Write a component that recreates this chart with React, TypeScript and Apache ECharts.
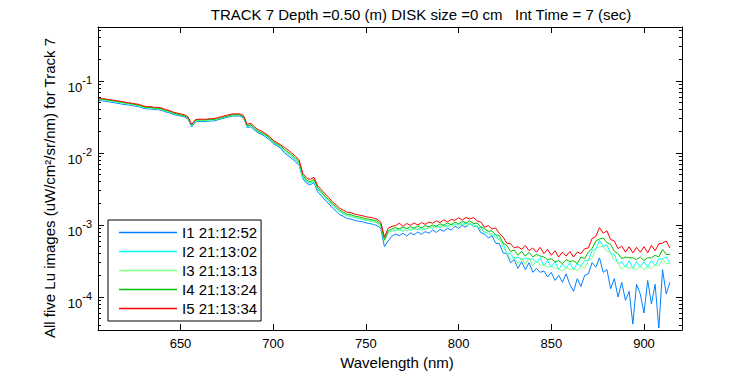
import React, { useEffect, useRef } from "react";
import * as echarts from "echarts";

const FONT = "'Liberation Sans', Arial, Helvetica, sans-serif";

const TITLE = "TRACK 7 Depth =0.50 (m) DISK size =0 cm   Int Time = 7 (sec)";
const Y_LABEL = "All five Lu images (uW/cm\u00B2/sr/nm) for Track 7";
const X_LABEL = "Wavelength (nm)";

const X_MIN = 605.5;
const X_MAX = 920.5;
const Y_MIN_LOG = -4.458;
const Y_MAX_LOG = -0.25;

const X_TICKS = [650, 700, 750, 800, 850, 900];
const Y_DECADES = [-4, -3, -2, -1];

const SERIES_NAMES = ["I1 21:12:52", "I2 21:13:02", "I3 21:13:13", "I4 21:13:24", "I5 21:13:34"];
const SERIES_COLORS = ["#0080FF", "#00FFFF", "#80FF80", "#00C000", "#FF0000"];

const WAVELENGTHS = [
  606, 608, 610, 612, 614, 616, 618, 620, 622, 624,
  626, 628, 630, 632, 634, 636, 638, 640, 642, 644,
  646, 648, 650, 652, 654, 656, 658, 660, 662, 664,
  666, 668, 670, 672, 674, 676, 678, 680, 682, 684,
  686, 688, 690, 692, 694, 696, 698, 700, 702, 704,
  706, 708, 710, 712, 714, 716, 718, 720, 722, 724,
  726, 728, 730, 732, 734, 736, 738, 740, 742, 744,
  746, 748, 750, 752, 754, 756, 758, 760, 762, 764,
  766, 768, 770, 772, 774, 776, 778, 780, 782, 784,
  786, 788, 790, 792, 794, 796, 798, 800, 802, 804,
  806, 808, 810, 812, 814, 816, 818, 820, 822, 824,
  826, 828, 830, 832, 834, 836, 838, 840, 842, 844,
  846, 848, 850, 852, 854, 856, 858, 860, 862, 864,
  866, 868, 870, 872, 874, 876, 878, 880, 882, 884,
  886, 888, 890, 892, 894, 896, 898, 900, 902, 904,
  906, 908, 910, 912, 914,
];

const I1 = [
  0.054, 0.053, 0.052, 0.051, 0.050, 0.049, 0.048, 0.047, 0.0465, 0.0455,
  0.0446, 0.0437, 0.0418, 0.0409, 0.0409, 0.040, 0.040, 0.039, 0.0372, 0.0363,
  0.0344, 0.0335, 0.0326, 0.0316, 0.0298, 0.023, 0.027, 0.0274, 0.0273, 0.0274,
  0.0279, 0.0279, 0.0288, 0.0298, 0.0307, 0.0316, 0.0326, 0.0326, 0.0326, 0.0307,
  0.0225, 0.0232, 0.0207, 0.0189, 0.018, 0.0167, 0.0153, 0.0135, 0.0126, 0.0117,
  0.0101, 0.0092, 0.0084, 0.0076, 0.0067, 0.0044, 0.0038, 0.0036, 0.0039, 0.0029,
  0.00254, 0.00221, 0.00197, 0.00172, 0.00156, 0.00139, 0.00131, 0.00123, 0.00121, 0.00116,
  0.00113, 0.00111, 0.00107, 0.00105, 0.00102, 0.00098, 0.0009, 0.0005, 0.0006, 0.0007,
  0.00075, 0.00071, 0.00077, 0.0007, 0.00078, 0.00073, 0.0008, 0.00074, 0.00081, 0.00077,
  0.00085, 0.00079, 0.00087, 0.00082, 0.0009, 0.00085, 0.00096, 0.0009, 0.00099, 0.00093,
  0.00106, 0.00095, 0.00097, 0.00078, 0.00075, 0.00066, 0.00071, 0.00056, 0.00055, 0.00041,
  0.0004, 0.0003, 0.00033, 0.00025, 0.00031, 0.00024, 0.0003, 0.00022, 0.00025, 0.00022,
  0.00023, 0.00019, 0.00022, 0.00017, 0.0002, 0.00016, 0.00021, 0.00015, 0.00012, 0.00018,
  0.00014, 0.0002, 0.00021, 0.0003, 0.00026, 0.00035, 0.00022, 0.00024, 0.00013, 0.00018,
  0.0001, 0.00016, 0.00009, 0.00012, 0.000042, 0.00015, 0.00011, 0.00006, 0.00017, 0.00008,
  0.00015, 0.000037, 0.00024, 0.00011, 0.00016,
];

const I2 = [
  0.0555, 0.0545, 0.0535, 0.0525, 0.0515, 0.0506, 0.0497, 0.0487, 0.0478, 0.0468,
  0.0458, 0.0449, 0.043, 0.042, 0.042, 0.041, 0.041, 0.040, 0.038, 0.0372,
  0.0353, 0.0344, 0.0334, 0.0325, 0.0305, 0.0239, 0.0277, 0.0282, 0.028, 0.0282,
  0.0287, 0.0287, 0.0296, 0.0306, 0.0315, 0.0325, 0.0334, 0.0334, 0.0334, 0.0315,
  0.0233, 0.024, 0.0214, 0.0195, 0.0186, 0.0172, 0.0158, 0.014, 0.013, 0.0121,
  0.0107, 0.0098, 0.0089, 0.008, 0.0071, 0.0046, 0.004, 0.0038, 0.0041, 0.0031,
  0.00276, 0.0024, 0.00214, 0.00187, 0.00169, 0.00151, 0.00142, 0.00134, 0.00132, 0.00126,
  0.00123, 0.0012, 0.00116, 0.00114, 0.00111, 0.00107, 0.00098, 0.0006, 0.00078, 0.00083,
  0.00083, 0.0009, 0.00081, 0.00091, 0.00084, 0.00091, 0.00085, 0.00093, 0.00086, 0.00095,
  0.0009, 0.00098, 0.00091, 0.00101, 0.00094, 0.00103, 0.001, 0.00104, 0.00102, 0.00106,
  0.00101, 0.00103, 0.00093, 0.00093, 0.00077, 0.00081, 0.00072, 0.00073, 0.00061, 0.00056,
  0.0004, 0.0004, 0.00034, 0.00036, 0.00033, 0.00035, 0.00033, 0.00034, 0.0003, 0.00035,
  0.00027, 0.00032, 0.00026, 0.00031, 0.00024, 0.00029, 0.00025, 0.0003, 0.00024, 0.00029,
  0.00027, 0.00032, 0.00032, 0.00044, 0.00046, 0.00061, 0.00051, 0.00053, 0.0004, 0.00039,
  0.00029, 0.00031, 0.00026, 0.00032, 0.00025, 0.00031, 0.00026, 0.00031, 0.00026, 0.00032,
  0.00027, 0.00034, 0.00034, 0.00036, 0.00029,
];

const I3 = [
  0.0557, 0.0547, 0.0538, 0.0528, 0.0518, 0.0509, 0.0499, 0.049, 0.048, 0.047,
  0.046, 0.0451, 0.0432, 0.0422, 0.0422, 0.0413, 0.0413, 0.0403, 0.0384, 0.0374,
  0.0355, 0.0346, 0.0336, 0.0326, 0.0307, 0.024, 0.0278, 0.0283, 0.0282, 0.0283,
  0.0288, 0.0288, 0.0298, 0.0307, 0.0317, 0.0326, 0.0336, 0.0336, 0.0336, 0.0317,
  0.0235, 0.0242, 0.0216, 0.0197, 0.0188, 0.0174, 0.016, 0.0141, 0.0132, 0.0122,
  0.0108, 0.0099, 0.009, 0.0081, 0.0072, 0.0047, 0.0041, 0.0039, 0.0041, 0.0032,
  0.0028, 0.0024, 0.00216, 0.00189, 0.00171, 0.00153, 0.00144, 0.00135, 0.00133, 0.00128,
  0.00124, 0.00121, 0.00117, 0.00115, 0.00112, 0.00108, 0.00099, 0.0006, 0.00079, 0.00084,
  0.00086, 0.00084, 0.00085, 0.00083, 0.00088, 0.00086, 0.00089, 0.00084, 0.0009, 0.00088,
  0.00096, 0.00091, 0.00097, 0.00094, 0.001, 0.00096, 0.00105, 0.00097, 0.00107, 0.00098,
  0.00105, 0.00096, 0.00098, 0.00085, 0.00082, 0.00074, 0.00077, 0.00066, 0.00065, 0.00049,
  0.00041, 0.00033, 0.00036, 0.00029, 0.00035, 0.00028, 0.00035, 0.00027, 0.00032, 0.00028,
  0.00028, 0.00026, 0.00027, 0.00025, 0.00025, 0.00023, 0.00026, 0.00024, 0.00025, 0.00023,
  0.00027, 0.00025, 0.00032, 0.00035, 0.00046, 0.0005, 0.00051, 0.00043, 0.00042, 0.00032,
  0.0003, 0.00024, 0.00027, 0.00025, 0.00026, 0.00024, 0.00027, 0.00024, 0.00026, 0.00025,
  0.00028, 0.00027, 0.00034, 0.00029, 0.0003,
];

const I4 = [
  0.057, 0.056, 0.055, 0.054, 0.053, 0.052, 0.051, 0.050, 0.049, 0.048,
  0.047, 0.046, 0.044, 0.043, 0.043, 0.042, 0.042, 0.041, 0.039, 0.038,
  0.036, 0.035, 0.034, 0.033, 0.031, 0.0245, 0.0285, 0.029, 0.0288, 0.029,
  0.0294, 0.0294, 0.030, 0.031, 0.032, 0.033, 0.034, 0.034, 0.034, 0.032,
  0.024, 0.0248, 0.022, 0.020, 0.019, 0.0178, 0.0163, 0.0144, 0.0134, 0.0125,
  0.0113, 0.0103, 0.0094, 0.0085, 0.0075, 0.0049, 0.0042, 0.0040, 0.0043, 0.0033,
  0.0029, 0.0025, 0.00225, 0.00197, 0.00178, 0.0016, 0.0015, 0.00141, 0.00139, 0.00133,
  0.0013, 0.00127, 0.00122, 0.0012, 0.00117, 0.00113, 0.00103, 0.00063, 0.00083, 0.00088,
  0.00092, 0.00088, 0.00094, 0.00089, 0.00095, 0.0009, 0.00097, 0.00091, 0.00098, 0.00094,
  0.001, 0.00096, 0.00104, 0.00099, 0.00107, 0.00101, 0.0011, 0.00104, 0.00113, 0.00106,
  0.00114, 0.00105, 0.00106, 0.00094, 0.00089, 0.00082, 0.00083, 0.00073, 0.00071, 0.00056,
  0.00052, 0.00043, 0.00045, 0.00038, 0.00043, 0.00037, 0.00042, 0.00036, 0.00039, 0.00037,
  0.00036, 0.00033, 0.00034, 0.00031, 0.00032, 0.00029, 0.00033, 0.00031, 0.00032, 0.00029,
  0.00036, 0.00034, 0.00042, 0.00047, 0.0006, 0.00064, 0.00066, 0.00057, 0.00054, 0.00043,
  0.0004, 0.00034, 0.00036, 0.00035, 0.00035, 0.00033, 0.00036, 0.00032, 0.00035, 0.00035,
  0.00038, 0.00036, 0.00046, 0.00039, 0.00039,
];

const I5 = [
  0.058, 0.057, 0.056, 0.055, 0.054, 0.053, 0.052, 0.051, 0.050, 0.049,
  0.048, 0.047, 0.045, 0.044, 0.044, 0.043, 0.043, 0.042, 0.040, 0.039,
  0.037, 0.036, 0.035, 0.034, 0.032, 0.025, 0.029, 0.0295, 0.0294, 0.0295,
  0.030, 0.030, 0.031, 0.032, 0.033, 0.034, 0.035, 0.035, 0.035, 0.033,
  0.025, 0.0258, 0.023, 0.021, 0.020, 0.0185, 0.017, 0.015, 0.014, 0.013,
  0.012, 0.011, 0.010, 0.0090, 0.0080, 0.0052, 0.0045, 0.0043, 0.0046, 0.0035,
  0.0031, 0.0027, 0.0024, 0.0021, 0.0019, 0.0017, 0.0016, 0.0015, 0.00148, 0.00142,
  0.00138, 0.00135, 0.0013, 0.00128, 0.00125, 0.0012, 0.0011, 0.00068, 0.0009, 0.00096,
  0.00098, 0.00106, 0.00096, 0.00105, 0.00099, 0.00107, 0.001, 0.00108, 0.00102, 0.0011,
  0.00106, 0.00114, 0.00108, 0.00118, 0.0011, 0.0012, 0.00116, 0.00126, 0.00118, 0.00127,
  0.00121, 0.00127, 0.00114, 0.0011, 0.00093, 0.00098, 0.00088, 0.00091, 0.00076, 0.00068,
  0.00056, 0.00055, 0.00048, 0.0005, 0.00046, 0.00052, 0.00044, 0.00048, 0.00042, 0.00049,
  0.0004, 0.00046, 0.00038, 0.00044, 0.00036, 0.00042, 0.00037, 0.00043, 0.00036, 0.00042,
  0.0004, 0.00047, 0.00048, 0.00065, 0.00069, 0.00092, 0.00077, 0.00083, 0.00063, 0.0006,
  0.00047, 0.00051, 0.00042, 0.0005, 0.00041, 0.00049, 0.00042, 0.0005, 0.00041, 0.00052,
  0.00044, 0.00055, 0.00056, 0.0006, 0.00048,
];

const SERIES_VALUES = [I1, I2, I3, I4, I5];

export default function App() {
  const ref = useRef<HTMLDivElement>(null);

  useEffect(() => {
    if (!ref.current) return;
    const chart = echarts.init(ref.current, null, { renderer: "svg" });

    const minorTicks: number[] = [];
    for (let d = -5; d <= -1; d++) {
      for (let k = 2; k <= 9; k++) minorTicks.push(d + Math.log10(k));
    }

    const black = { color: "#000", width: 1 };

    const yBase = {
      type: "value",
      min: Y_MIN_LOG,
      max: Y_MAX_LOG,
      splitLine: { show: false },
      axisLine: { show: false, onZero: false, lineStyle: black },
      axisLabel: { show: false },
    };

    const option: any = {
      animation: false,
      backgroundColor: "#ffffff",
      textStyle: { fontFamily: FONT },
      grid: { left: 98, right: 68, top: 27, bottom: 45, containLabel: false },
      legend: {
        show: true,
        orient: "vertical",
        left: 108,
        top: 220,
        padding: [5, 4, 5, 11],
        icon: "rect",
        itemWidth: 58,
        itemHeight: 1.5,
        itemGap: 4,
        backgroundColor: "#ffffff",
        borderColor: "#000",
        borderWidth: 1,
        borderRadius: 0,
        selectedMode: false,
        textStyle: { fontFamily: FONT, fontSize: 15, color: "#000" },
        data: SERIES_NAMES,
      },
      xAxis: [
        {
          type: "value",
          position: "bottom",
          min: X_MIN,
          max: X_MAX,
          axisLine: { show: true, onZero: false, lineStyle: black },
          axisTick: { show: true, inside: true, length: 6, customValues: X_TICKS, lineStyle: black },
          axisLabel: {
            show: true,
            customValues: X_TICKS,
            margin: 7,
            fontSize: 13,
            color: "#000",
            fontFamily: FONT,
          },
          splitLine: { show: false },
          name: X_LABEL,
          nameLocation: "middle",
          nameGap: 22,
          nameTextStyle: { fontSize: 15, color: "#000", fontFamily: FONT, padding: [0, 0, 0, 14] },
        },
        {
          type: "value",
          position: "top",
          min: X_MIN,
          max: X_MAX,
          axisLine: { show: true, onZero: false, lineStyle: black },
          axisTick: { show: true, inside: true, length: 6, customValues: X_TICKS, lineStyle: black },
          axisLabel: { show: false },
          splitLine: { show: false },
        },
      ],
      yAxis: [
        {
          ...yBase,
          position: "left",
          axisLine: { show: true, onZero: false, lineStyle: black },
          axisTick: { show: true, inside: true, length: 6, customValues: Y_DECADES, lineStyle: black },
          axisLabel: {
            show: true,
            customValues: Y_DECADES,
            margin: 6,
            color: "#000",
            fontFamily: FONT,
            formatter: (v: number) => `{b|10}{s|${Math.round(v)}}`,
            rich: {
              b: { fontSize: 13, lineHeight: 14, padding: [7, 0, 13, 0], verticalAlign: "top", fontFamily: FONT, color: "#000" },
              s: { fontSize: 11, lineHeight: 11, padding: [0, 0, 0, 0], verticalAlign: "top", fontFamily: FONT, color: "#000" },
            },
          },
        },
        {
          ...yBase,
          position: "left",
          axisTick: { show: true, inside: true, length: 3, customValues: minorTicks, lineStyle: black },
        },
        {
          ...yBase,
          position: "right",
          axisLine: { show: true, onZero: false, lineStyle: black },
          axisTick: { show: true, inside: true, length: 6, customValues: Y_DECADES, lineStyle: black },
        },
        {
          ...yBase,
          position: "right",
          axisTick: { show: true, inside: true, length: 3, customValues: minorTicks, lineStyle: black },
        },
      ],
      series: SERIES_NAMES.map((name, si) => ({
        name,
        type: "line",
        xAxisIndex: 0,
        yAxisIndex: 0,
        showSymbol: false,
        symbol: "none",
        clip: true,
        color: SERIES_COLORS[si],
        lineStyle: { color: SERIES_COLORS[si], width: 1 },
        emphasis: { disabled: true },
        data: WAVELENGTHS.map((w, i) => [w, Math.log10(SERIES_VALUES[si][i])]),
      })),
      graphic: [
        {
          type: "text",
          x: 421,
          y: 14,
          style: {
            text: TITLE,
            fontSize: 15,
            fontFamily: FONT,
            fill: "#000",
            align: "center",
            verticalAlign: "middle",
          },
        },
        {
          type: "text",
          x: 49,
          y: 188,
          rotation: Math.PI / 2,
          style: {
            text: Y_LABEL,
            fontSize: 15,
            fontFamily: FONT,
            fill: "#000",
            align: "center",
            verticalAlign: "middle",
          },
        },
      ],
    };

    chart.setOption(option);
    return () => chart.dispose();
  }, []);

  return (
    <div
      ref={ref}
      style={{ position: "fixed", left: 0, top: 0, width: 750, height: 375, background: "#fff" }}
    />
  );
}
